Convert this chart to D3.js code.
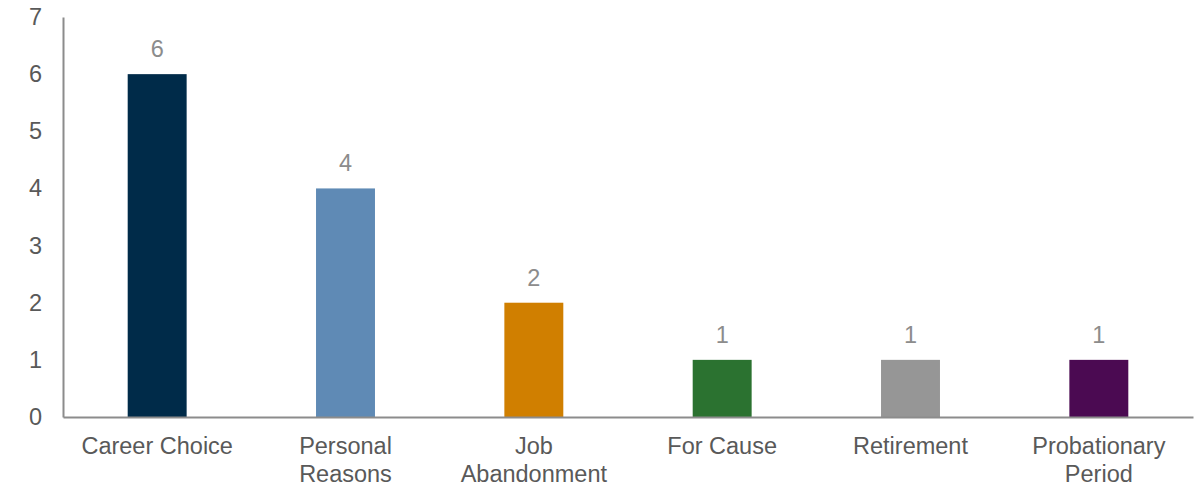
<!DOCTYPE html>
<html><head><meta charset="utf-8">
<script src="https://cdn.jsdelivr.net/npm/d3@7"></script>
<style>body{margin:0;background:#fff}svg{display:block}text{font-family:"Liberation Sans",Arial,sans-serif}</style>
</head><body><svg id="c" width="1202" height="486"></svg>
<script>
const categories = ["Career Choice","Personal Reasons","Job Abandonment","For Cause","Retirement","Probationary Period"];
const labelLines = [["Career Choice"],["Personal","Reasons"],["Job","Abandonment"],["For Cause"],["Retirement"],["Probationary","Period"]];
const values = [6,4,2,1,1,1];
const colors = ["#002B49","#5F8AB5","#D07F00","#2B7230","#969696","#4B0A52"];
const yTicks = [0,1,2,3,4,5,6,7];

(function(){
const svg = d3.select("#c");
const mLeft = 63, mRight = 1193, mTop = 17, mBottom = 417;
const fs = 23.5;
const x = d3.scaleBand().domain(categories).range([mLeft,mRight]).paddingInner(0.687).paddingOuter(0.3435);
const y = d3.scaleLinear().domain([0,7]).range([mBottom,mTop]);

svg.selectAll("rect.bar").data(values).join("rect")
  .attr("x",(d,i)=>x(categories[i])).attr("width",x.bandwidth())
  .attr("y",d=>y(d)).attr("height",d=>y(0)-y(d))
  .attr("fill",(d,i)=>colors[i]);

const ya = svg.append("g").attr("transform",`translate(${mLeft},0)`)
  .call(d3.axisLeft(y).tickValues(yTicks).tickFormat(d3.format("d")).tickSize(0).tickPadding(21));
ya.select(".domain").attr("stroke","#8c8c8c").attr("stroke-width",2);
ya.selectAll("text").attr("font-size",fs).attr("fill","#595959").attr("font-family","Liberation Sans, Arial, sans-serif");

const xa = svg.append("g").attr("transform",`translate(0,${mBottom})`)
  .call(d3.axisBottom(x).tickSize(0).tickFormat(""));
xa.select(".domain").attr("stroke","#8c8c8c").attr("stroke-width",2);

const lbl = svg.append("g").selectAll("text").data(categories).join("text")
  .attr("x",d=>x(d)+x.bandwidth()/2).attr("y",454)
  .attr("text-anchor","middle").attr("font-size",fs).attr("fill","#595959");
lbl.each(function(d,i){
  const t = d3.select(this);
  labelLines[i].forEach((l,j)=>t.append("tspan").attr("x",x(d)+x.bandwidth()/2).attr("dy",j?27.5:0).text(l));
});

svg.append("g").selectAll("text").data(values).join("text")
  .attr("x",(d,i)=>x(categories[i])+x.bandwidth()/2).attr("y",d=>y(d)-17)
  .attr("text-anchor","middle").attr("font-size",fs).attr("fill","#8c8c8c")
  .text(d=>d);
})();
</script></body></html>
